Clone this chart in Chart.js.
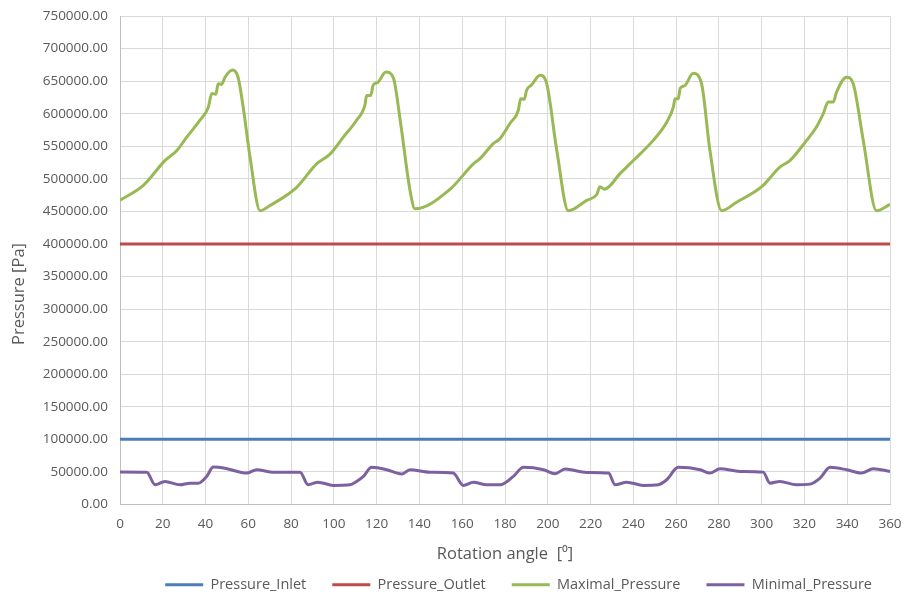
<!DOCTYPE html>
<html>
<head>
<meta charset="utf-8">
<script src="https://cdn.jsdelivr.net/npm/chart.js@4"></script>
<style>
  html, body { margin: 0; padding: 0; background: #fff; }
  #wrap { width: 906px; height: 597px; }
</style>
</head>
<body>
<div id="wrap"><canvas id="myChart"></canvas></div>
<script>
// Constant lines (inlet / outlet)
const flatAngles = [0, 360];
const inletValues = [100000, 100000];
const outletValues = [400000, 400000];

// Maximal pressure
const maxAngles = [0, 10.9, 21, 26.5, 31.2, 37.4, 41.3, 42.9, 44.8, 45.9, 47.5, 49.1, 52.6, 55.2, 57.6, 60.8, 65.5,
  70.1, 82.6, 91.9, 98.2, 104.4, 110.6, 114.5, 115.3, 117.2, 118.4, 120.5, 124.3, 127.8, 131, 135.6, 137.9,
  154.3, 165.2, 168.3, 174.5, 177.7, 182.3, 186.2, 187.3, 189, 190.1, 192.4, 196.4, 199.5, 204.2, 209.6,
  218.2, 222.9, 224.4, 226.5, 233.8, 238.4, 243.1, 249.3, 255.6, 258.7, 259.5, 261, 261.9, 264, 268,
  271.9, 275.8, 281.3, 288.3, 297.6, 300.7, 308.5, 313.2, 321, 325.7, 328.8, 331.1, 333.5, 335, 339.7,
  342.8, 347.5, 353.7, 360];
const maxValues = [467000, 490000, 528000, 543000, 564000, 590000, 610000, 631000, 630000, 646000, 645000, 656000, 667000, 656000, 610000, 533000, 451000,
  459000, 487000, 523000, 538000, 564000, 590000, 613000, 628000, 628000, 644000, 648000, 664000, 655000, 590000, 482000, 454000,
  484000, 523000, 531000, 554000, 562000, 585000, 605000, 623000, 622000, 636000, 644000, 659000, 646000, 544000, 451000,
  467000, 476000, 488000, 484000, 508000, 523000, 538000, 559000, 587000, 610000, 623000, 623000, 639000, 643000, 662000,
  646000, 544000, 451000, 464000, 482000, 490000, 518000, 528000, 559000, 580000, 600000, 618000, 618000, 633000, 656000,
  646000, 559000, 451000, 461000];

// Minimal pressure
const minAngles = [0, 12.5, 16.4, 21, 28, 32.7, 36.6, 40.5, 43.6, 49.9, 59.2, 63.9, 71.7, 84.2, 87.9, 92.6, 99.7,
  107.5, 110.6, 113.8, 117.6, 124.7, 131.7, 135.6, 144.9, 155.8, 160.5, 165.2, 171.4, 177.7, 183.9, 188.6,
  198, 203.4, 208.1, 218.2, 228.4, 231.5, 236.9, 244.7, 251.7, 255.6, 261, 271.2, 275.8, 280.5, 289.9,
  300.7, 303.9, 308.5, 316.3, 322.6, 327.3, 332, 339.7, 346.7, 352.2, 360];
const minValues = [50000, 49500, 30300, 35400, 30300, 32800, 32800, 43100, 57400, 55000, 48200, 53400, 49700, 49700, 30300, 34300, 29300,
  30300, 35400, 43100, 57000, 53400, 46700, 53400, 49700, 48200, 29300, 34300, 30300, 30300, 43100, 57000,
  53400, 47300, 54400, 49300, 48200, 30300, 34300, 29300, 30300, 38000, 57000, 53400, 48200, 55000, 50800,
  49700, 32800, 35400, 30300, 31300, 40500, 57000, 53400, 48200, 55000, 50800];

const pts = (xs, ys) => xs.map((x, i) => ({ x: x, y: ys[i] }));

const textColor = '#595959';
const fontFamily = '"Open Sans", "Liberation Sans", sans-serif';

// The y title sits a bit below the middle of the axis in the original,
// so it is drawn here instead of with the scale's own title.
const yTitlePlugin = {
  id: 'yTitle',
  afterDraw(chart) {
    const c = chart.ctx;
    c.save();
    c.translate(19, 294);
    c.rotate(-Math.PI / 2);
    c.fillStyle = textColor;
    c.font = '16.5px ' + fontFamily;
    c.textAlign = 'center';
    c.textBaseline = 'middle';
    c.fillText('Pressure [Pa]', 0, 0);
    c.restore();
  },
};

const ctx = document.getElementById('myChart');

const myChart = new Chart(ctx, {
  type: 'line',
  data: {
    datasets: [
      { label: 'Pressure_Inlet', data: pts(flatAngles, inletValues), borderColor: '#4a7ebb', backgroundColor: '#4a7ebb', borderWidth: 3 },
      { label: 'Pressure_Outlet', data: pts(flatAngles, outletValues), borderColor: '#be4b48', backgroundColor: '#be4b48', borderWidth: 3 },
      { label: 'Maximal_Pressure', data: pts(maxAngles, maxValues), borderColor: '#98b954', backgroundColor: '#98b954', borderWidth: 3 },
      { label: 'Minimal_Pressure', data: pts(minAngles, minValues), borderColor: '#7d60a0', backgroundColor: '#7d60a0', borderWidth: 3 },
    ],
  },
  plugins: [yTitlePlugin],
  options: {
    responsive: true,
    maintainAspectRatio: false,
    animation: false,
    elements: {
      point: { radius: 0 },
      line: { tension: 0.3, cubicInterpolationMode: 'monotone' },
    },
    layout: { padding: { left: 5, right: 8, top: 16, bottom: -5 } },
    plugins: {
      legend: {
        position: 'bottom',
        align: 'end',
        labels: {
          usePointStyle: true,
          pointStyle: 'line',
          pointStyleWidth: 38,
          padding: 26,
          color: textColor,
          font: { family: fontFamily, size: 14.5 },
        },
      },
      tooltip: { enabled: false },
    },
    scales: {
      x: {
        type: 'linear',
        min: 0,
        max: 360,
        ticks: { stepSize: 20, color: textColor, font: { family: fontFamily, size: 13.5 }, maxRotation: 0, padding: 12 },
        grid: { color: '#d9d9d9', lineWidth: 1, drawTicks: false },
        border: { color: '#bfbfbf' },
        title: { display: true, text: 'Rotation angle  [\u2070]', color: textColor, font: { family: fontFamily, size: 16.5 }, padding: { top: 6, bottom: -13 } },
        afterFit: (scale) => {
          scale.height = 47;
          scale.paddingLeft = 0;
          scale.paddingRight = 16;
        },
      },
      y: {
        min: 0,
        max: 750000,
        ticks: {
          stepSize: 50000,
          color: textColor,
          font: { family: fontFamily, size: 13.5 },
          padding: 12,
          callback: (v) => v.toFixed(2),
        },
        grid: { color: '#d9d9d9', lineWidth: 1, drawTicks: false },
        border: { color: '#bfbfbf' },
        afterFit: (scale) => {
          scale.width = 115;
          scale.paddingTop = 0;
          scale.paddingBottom = 0;
        },
      },
    },
  },
});
</script>
</body>
</html>
